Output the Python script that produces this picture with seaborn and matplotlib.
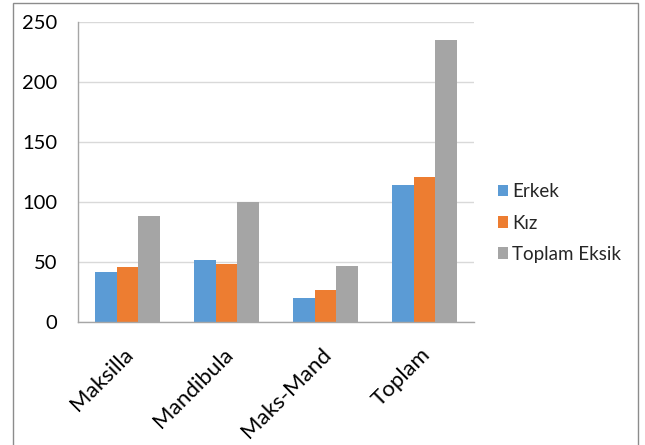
import matplotlib
matplotlib.use("Agg")
import matplotlib.pyplot as plt
import matplotlib.transforms as mtransforms
import seaborn as sns
import pandas as pd
from matplotlib.patches import Rectangle, Patch

categories = ["Maksilla", "Mandibula", "Maks-Mand", "Toplam"]
series = ["Erkek", "Kız", "Toplam Eksik"]
erkek = [42, 52, 20, 114]
kiz = [46, 48, 27, 121]
toplam_eksik = [88, 100, 47, 235]
yticks = [0, 50, 100, 150, 200, 250]
colors = ["#5B9BD5", "#ED7D31", "#A5A5A5"]

rows = []
for s, vals in zip(series, [erkek, kiz, toplam_eksik]):
    for c, v in zip(categories, vals):
        rows.append({"cat": c, "series": s, "value": v})
df = pd.DataFrame(rows)

sns.set_theme(style="white")
plt.rcParams["font.family"] = ["Lato", "DejaVu Sans"]

W, H = 645, 445
fig = plt.figure(figsize=(W / 100, H / 100), dpi=100)
fig.patch.set_facecolor("white")
ax = fig.add_axes([78 / W, (H - 322) / H, 396 / W, 300 / H])

sns.barplot(data=df, x="cat", y="value", hue="series", order=categories,
            hue_order=series, palette=colors, width=0.66, gap=0,
            saturation=1, ax=ax, legend=False, linewidth=0)

ax.set_ylim(0, 250)
ax.set_xlim(-0.5, len(categories) - 0.5)
ax.set_yticks(yticks)
ax.set_yticklabels([str(t) for t in yticks], fontsize=14.5)
ax.yaxis.grid(True, color="#D9D9D9", linewidth=1)
ax.set_axisbelow(True)
ax.set_xlabel("")
ax.set_ylabel("")

for side in ["top", "right"]:
    ax.spines[side].set_visible(False)
for side in ["left", "bottom"]:
    ax.spines[side].set_color("#A6A6A6")
    ax.spines[side].set_linewidth(1)

ax.tick_params(axis="y", length=6, width=1, color="#A6A6A6", pad=9, labelcolor="black")
ax.set_xticks(range(len(categories)))
ax.set_xticklabels(categories, rotation=45, ha="right", rotation_mode="anchor",
                   fontsize=16)
ax.tick_params(axis="x", which="major", length=0, pad=16, labelcolor="black")
offset = mtransforms.ScaledTranslation(-4 / 100, 0, fig.dpi_scale_trans)
for lbl in ax.get_xticklabels():
    lbl.set_transform(lbl.get_transform() + offset)
ax.set_xticks([i - 0.5 for i in range(len(categories) + 1)], minor=True)
ax.tick_params(axis="x", which="minor", length=6, width=1, color="#A6A6A6")

handles = [Patch(facecolor=c, edgecolor="none") for c in colors]
fig.legend(handles, series, loc="center left", bbox_to_anchor=(498 / W, 1 - 223 / H),
           frameon=False, fontsize=13.5, handlelength=0.55, handleheight=0.55,
           handletextpad=0.2, labelspacing=0.76, borderaxespad=0, borderpad=0)

fig.patches.append(Rectangle((12.5 / W, -0.01), (638 - 12.5) / W, 1 - 2.5 / H + 0.01,
                             transform=fig.transFigure, fill=False,
                             edgecolor="#8C8C8C", linewidth=1))

fig.savefig("out.png", dpi=100)
